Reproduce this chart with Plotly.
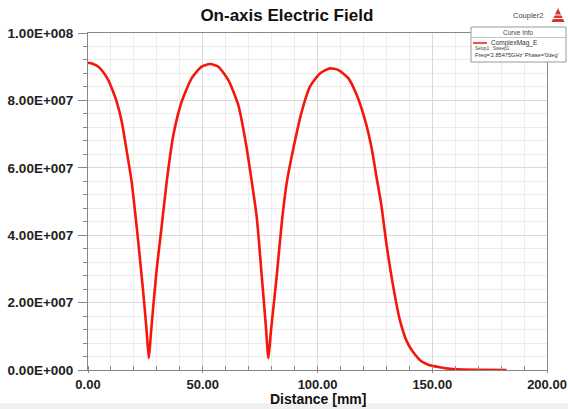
import plotly.graph_objects as go

# Data (distance in mm, |E| in V/m)
distance_mm = [0, 2, 4.5, 6.5, 8.8, 10.7, 12.5, 14.7, 16.9, 19, 21.9, 24.1, 25.5, 26.5,
               27.5, 29.9, 32, 34.3, 37.2, 40.8, 45.2, 49.5, 53.2, 56.8, 61.1, 65.5,
               68.6, 71.3, 73.5, 75.7, 77.5, 78.6, 79.7, 82.2, 84.4, 86.6, 89.5, 93.1,
               96.7, 101.1, 105.4, 109.1, 113.4, 117.1, 120.7, 123.6, 125.8, 127.8,
               130.2, 133.2, 135.9, 138.9, 141.5, 145.4, 148.5, 151.9, 155, 160.6,
               170, 182.4]
field_e6 = [91.2, 90.9, 90.0, 88.5, 86.1, 83.0, 79.6, 73.7, 64.8, 55.9, 38.0, 22.8, 12.0,
            3.5, 11.5, 29.7, 42.0, 55.9, 69.7, 79.6, 86.6, 90.0, 90.8, 90.0, 86.1, 78.6,
            68.0, 56.2, 45.5, 28.0, 13.0, 3.5, 11.5, 27.7, 43.5, 55.6, 65.8, 76.6,
            84.1, 88.0, 89.5, 89.0, 86.6, 81.6, 74.2, 65.8, 56.9, 49.0,
            36.6, 24.0, 14.8, 8.5, 5.5, 2.5, 1.5, 1.0, 0.6, 0.2,
            0.05, 0.0]
field = [v * 1e6 for v in field_e6]

y_tickvals = [0, 2e7, 4e7, 6e7, 8e7, 1e8]
y_ticktext = ["0.00E+000", "2.00E+007", "4.00E+007", "6.00E+007", "8.00E+007", "1.00E+008"]
x_tickvals = [0, 50, 100, 150, 200]
x_ticktext = ["0.00", "50.00", "100.00", "150.00", "200.00"]

W, H = 568, 409
L, R, T, B = 88, 547, 33, 370


def px(x):
    return (x - L) / (R - L)


def py(y):
    return (B - y) / (B - T)


fig = go.Figure()
fig.add_trace(go.Scatter(x=distance_mm, y=field, mode="lines",
                         line=dict(color="#f5170c", width=2.6, shape="spline", smoothing=0.6),
                         name="ComplexMag_E", showlegend=False))

ytickfont = dict(family="Liberation Sans, Arial", size=13.5, color="#222222")
xtickfont = dict(family="Liberation Sans, Arial", size=13, color="#222222")
grid_major = "#d9d9d9"
grid_minor = "#ececec"

fig.update_layout(
    width=W, height=H,
    margin=dict(l=L, r=W - R, t=T, b=H - B, autoexpand=False),
    paper_bgcolor="white", plot_bgcolor="white",
    title=dict(text="<b>On-axis Electric Field</b>", x=0.505, xref="container",
               y=1 - 15 / H, yref="container", yanchor="middle", xanchor="center",
               font=dict(family="Liberation Sans, Arial", size=17, color="#111111")),
    xaxis=dict(range=[0, 200], tickmode="array", tickvals=x_tickvals,
               ticktext=[f"<b>{t}</b>" for t in x_ticktext], automargin=False,
               tickfont=xtickfont, ticks="outside", ticklen=2, tickcolor="#888888",
               showline=True, linecolor="#888888", linewidth=1, mirror=True,
               showgrid=True, gridcolor=grid_major, zeroline=False,
               minor=dict(tickmode="linear", tick0=0, dtick=10, showgrid=True,
                          gridcolor=grid_minor, ticks="inside", ticklen=4, tickcolor="#888888")),
    yaxis=dict(range=[0, 1e8], tickmode="array", tickvals=y_tickvals,
               ticktext=[f"<b>{t}</b>" for t in y_ticktext], automargin=False,
               tickfont=ytickfont, ticks="outside", ticklen=9, tickcolor="#888888",
               ticklabelstandoff=2,
               showline=True, linecolor="#888888", linewidth=1, mirror=True,
               showgrid=True, gridcolor=grid_major, zeroline=False,
               minor=dict(tickmode="linear", tick0=0, dtick=4e6, showgrid=True,
                          gridcolor=grid_minor, ticks="outside", ticklen=4, tickcolor="#888888")),
)

# X axis title placed as in the reference
fig.add_annotation(text="<b>Distance [mm]</b>", xref="paper", yref="paper", x=0.5, y=py(399),
                   showarrow=False, xanchor="center", yanchor="middle",
                   font=dict(family="Liberation Sans, Arial", size=14, color="#111111"))

# Bottom gray strip of the screenshot
fig.add_shape(type="rect", xref="paper", yref="paper", x0=px(0), x1=px(W),
              y0=py(H), y1=py(403), fillcolor="#f0f0f0", line=dict(width=0), layer="below")

# Curve Info box
fig.add_shape(type="rect", xref="paper", yref="paper", x0=px(471), x1=px(566),
              y0=py(62), y1=py(27), fillcolor="white", line=dict(color="#9a9a9a", width=1))
fig.add_shape(type="line", xref="paper", yref="paper", x0=px(471), x1=px(566),
              y0=py(37.5), y1=py(37.5), line=dict(color="#b5b5b5", width=0.8))
fig.add_shape(type="line", xref="paper", yref="paper", x0=px(473), x1=px(487),
              y0=py(43), y1=py(43), line=dict(color="#f0504a", width=2))

small = "Liberation Sans, Arial"
fig.add_annotation(text="Curve Info", xref="paper", yref="paper", x=px(518), y=py(32.5),
                   showarrow=False, font=dict(family=small, size=6.5, color="#444444"),
                   xanchor="center", yanchor="middle")
fig.add_annotation(text="ComplexMag_E", xref="paper", yref="paper", x=px(489), y=py(43),
                   showarrow=False, font=dict(family=small, size=6.5, color="#333333"),
                   xanchor="left", yanchor="middle")
fig.add_annotation(text="Setup1 : Sweep1", xref="paper", yref="paper", x=px(473), y=py(49),
                   showarrow=False, font=dict(family=small, size=4.5, color="#444444"),
                   xanchor="left", yanchor="middle")
fig.add_annotation(text="Freq='2.85475GHz' Phase='0deg'", xref="paper", yref="paper",
                   x=px(473), y=py(55), showarrow=False,
                   font=dict(family=small, size=5.6, color="#333333"),
                   xanchor="left", yanchor="middle")
fig.add_annotation(text="Coupler2", xref="paper", yref="paper", x=px(528), y=py(16),
                   showarrow=False, font=dict(family=small, size=7.5, color="#444444"),
                   xanchor="center", yanchor="middle")

# ANSYS-like red triangle logo
fig.add_shape(type="path", xref="paper", yref="paper",
              path=f"M {px(551.5)} {py(22)} L {px(564.5)} {py(22)} L {px(558)} {py(8)} Z",
              fillcolor="#d9342b", line=dict(width=0))
for yy in (15, 18.5):
    fig.add_shape(type="line", xref="paper", yref="paper", x0=px(553), x1=px(563),
                  y0=py(yy), y1=py(yy), line=dict(color="white", width=1))

fig.write_html("out.html", config={"displayModeBar": False},
               post_script="document.body.style.margin='0px';document.body.style.overflow='hidden';")
